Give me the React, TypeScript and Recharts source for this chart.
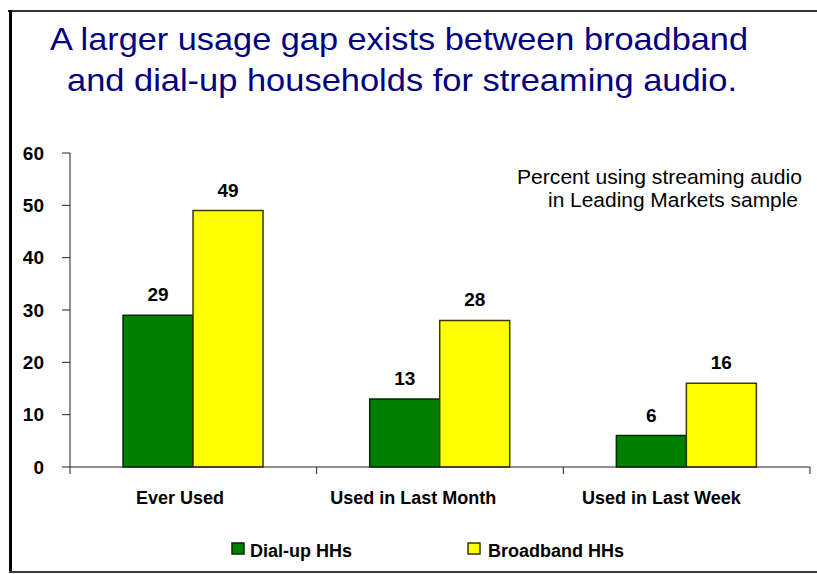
import { BarChart, Bar, XAxis, YAxis, LabelList } from "recharts";

const categories = ["Ever Used", "Used in Last Month", "Used in Last Week"];
const dialUp = [29, 13, 6];
const broadband = [49, 28, 16];
const yTicks = [0, 10, 20, 30, 40, 50, 60];
const seriesNames = ["Dial-up HHs", "Broadband HHs"];
const titleLines = [
  "A larger usage gap exists between broadband",
  "and dial-up households for streaming audio.",
];
const noteLines = ["Percent using streaming audio", "in Leading Markets sample"];

const W = 817;
const H = 574;
const margin = { top: 153, right: 7, bottom: 67, left: 0 };
const Y_W = 70;
const X_H = 40;
const plotLeft = margin.left + Y_W;
const plotRight = W - margin.right;
const plotBottom = H - margin.bottom - X_H;
const band = (plotRight - plotLeft) / categories.length;

const FONT = '"Liberation Sans", Arial, sans-serif';
const GREEN = "#008000";
const YELLOW = "#FFFF00";

const data = categories.map((c, i) => ({ cat: c, dial: dialUp[i], broad: broadband[i] }));

// category ticks sit on the band edges; labels are nudged left like the original
function XTick(props: any) {
  const { x, payload, index } = props;
  const est = String(payload.value).length * 9.3;
  const left = x - band / 2;
  return (
    <g>
      <line x1={left} x2={left} y1={plotBottom} y2={plotBottom + 7} stroke="#222" />
      {index === categories.length - 1 && (
        <line x1={x + band / 2} x2={x + band / 2} y1={plotBottom} y2={plotBottom + 7} stroke="#222" />
      )}
      <text
        x={x}
        y={plotBottom + 37}
        dx={-0.16 * est}
        textAnchor="middle"
        fontWeight={700}
        fontSize={18}
        fill="#000"
        fontFamily={FONT}
      >
        {payload.value}
      </text>
    </g>
  );
}

export default function App() {
  return (
    <div style={{ position: "fixed", left: 0, top: 0, width: W, height: H, background: "#fff", fontFamily: FONT }}>
      {/* frame */}
      <div style={{ position: "absolute", left: 8, top: 10, width: W - 8, height: 2, background: "#333" }} />
      <div style={{ position: "absolute", left: 9, top: 10, width: 3, height: 563, background: "#000" }} />
      <div style={{ position: "absolute", left: 9, top: 571, width: W - 9, height: 2, background: "#3a3a3a" }} />

      <div style={{ position: "absolute", left: 0, top: 0 }}>
        <BarChart width={W} height={H} data={data} margin={margin} barCategoryGap="21.5%" barGap={0}>
          <XAxis
            dataKey="cat"
            height={X_H}
            interval={0}
            tickLine={false}
            axisLine={{ stroke: "#222" }}
            tick={(p: any) => <XTick {...p} />}
          />
          <YAxis
            width={Y_W}
            domain={[0, 60]}
            ticks={yTicks}
            interval={0}
            tickSize={8}
            tickMargin={18}
            axisLine={{ stroke: "#222" }}
            tickLine={{ stroke: "#222" }}
            tick={{ fontSize: 19, fontWeight: 700, fill: "#000", fontFamily: FONT }}
          />
          <Bar dataKey="dial" name={seriesNames[0]} fill={GREEN} stroke="#002a00" strokeWidth={1.5} isAnimationActive={false}>
            <LabelList dataKey="dial" position="top" offset={14} style={{ fontSize: 19, fontWeight: 700, fill: "#000", fontFamily: FONT }} />
          </Bar>
          <Bar dataKey="broad" name={seriesNames[1]} fill={YELLOW} stroke="#3a3a00" strokeWidth={1.5} isAnimationActive={false}>
            <LabelList dataKey="broad" position="top" offset={14} style={{ fontSize: 19, fontWeight: 700, fill: "#000", fontFamily: FONT }} />
          </Bar>
        </BarChart>
      </div>

      <svg width={W} height={H} style={{ position: "absolute", left: 0, top: 0, pointerEvents: "none" }}>
        <text x={50} y={49.5} fontSize={31.5} fill="#000080" fontFamily={FONT} textLength={698} lengthAdjust="spacingAndGlyphs">
          {titleLines[0]}
        </text>
        <text x={67} y={91} fontSize={31.5} fill="#000080" fontFamily={FONT} textLength={670} lengthAdjust="spacingAndGlyphs">
          {titleLines[1]}
        </text>
        <text x={517} y={184} fontSize={20.5} fill="#000" fontFamily={FONT} textLength={285} lengthAdjust="spacingAndGlyphs">
          {noteLines[0]}
        </text>
        <text x={548} y={207} fontSize={20.5} fill="#000" fontFamily={FONT} textLength={250} lengthAdjust="spacingAndGlyphs">
          {noteLines[1]}
        </text>

        {/* legend */}
        <rect x={232} y={543} width={12} height={11} fill={GREEN} stroke="#002a00" strokeWidth={1.5} />
        <text x={250} y={557} fontSize={18} fontWeight={700} fill="#000" fontFamily={FONT}>
          {seriesNames[0]}
        </text>
        <rect x={468} y={543} width={12} height={11} fill={YELLOW} stroke="#3a3a00" strokeWidth={1.5} />
        <text x={488} y={557} fontSize={18} fontWeight={700} fill="#000" fontFamily={FONT}>
          {seriesNames[1]}
        </text>
      </svg>
    </div>
  );
}
